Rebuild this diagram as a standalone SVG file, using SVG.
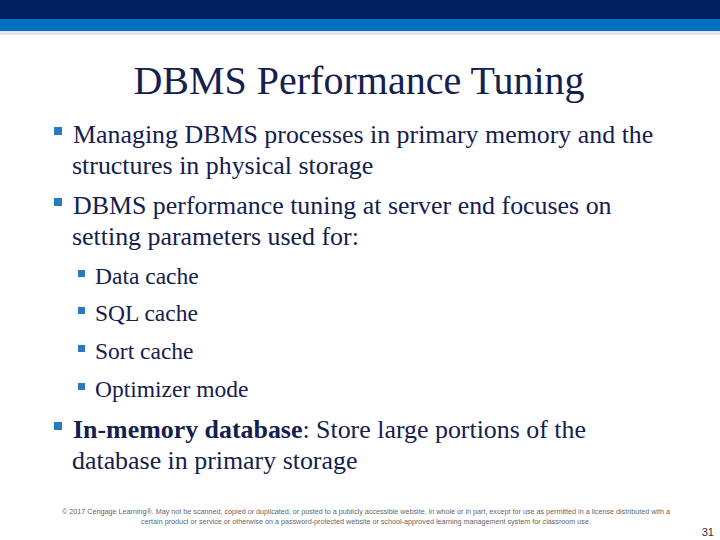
<svg xmlns="http://www.w3.org/2000/svg" width="720" height="540" viewBox="0 0 720 540">
<style>
.t{font-family:"Liberation Serif",serif;fill:#14204e}
.b{font-size:25.9px}
.s{font-size:23.5px}
.bl{fill:#2a7abf}
.f{font-family:"Liberation Sans",sans-serif;font-size:7.2px;fill:#666}
</style>
<rect width="720" height="540" fill="#fff"/>
<rect width="720" height="19" fill="#001f5f"/>
<rect y="19" width="720" height="12" fill="#0070c0"/>
<rect y="31" width="720" height="4" fill="#e4e6ee"/>
<text class="t" x="359" y="94" font-size="40" text-anchor="middle">DBMS Performance Tuning</text>
<g id="bullets">
<rect class="bl" x="54" y="127" width="8" height="8"/>
<rect class="bl" x="54" y="198" width="8" height="8"/>
<rect class="bl" x="78" y="270" width="7" height="7"/>
<rect class="bl" x="78" y="307" width="7" height="7"/>
<rect class="bl" x="78" y="345" width="7" height="7"/>
<rect class="bl" x="78" y="383" width="7" height="7"/>
<rect class="bl" x="54" y="422" width="8" height="8"/>
</g>
<g class="t b">
<text x="73" y="143">Managing DBMS processes in primary memory and the</text>
<text x="72" y="174">structures in physical storage</text>
<text x="73" y="214">DBMS performance tuning at server end focuses on</text>
<text x="72" y="245">setting parameters used for:</text>
<text x="73" y="438"><tspan font-weight="bold">In-memory database</tspan>: Store large portions of the</text>
<text x="72" y="469">database in primary storage</text>
</g>
<g class="t s">
<text x="95" y="284">Data cache</text>
<text x="95" y="321">SQL cache</text>
<text x="95" y="359">Sort cache</text>
<text x="95" y="397">Optimizer mode</text>
</g>
<text class="f" x="366" y="514" text-anchor="middle">© 2017 Cengage Learning®. May not be scanned, copied or duplicated, or posted to a publicly accessible website, in whole or in part, except for use as permitted in a license distributed with a</text>
<text class="f" x="366" y="524" text-anchor="middle">certain product or service or otherwise on a password-protected website or school-approved learning management system for classroom use.</text>
<text x="714" y="536" text-anchor="end" font-family="Liberation Sans,sans-serif" font-size="11" fill="#333">31</text>
</svg>
